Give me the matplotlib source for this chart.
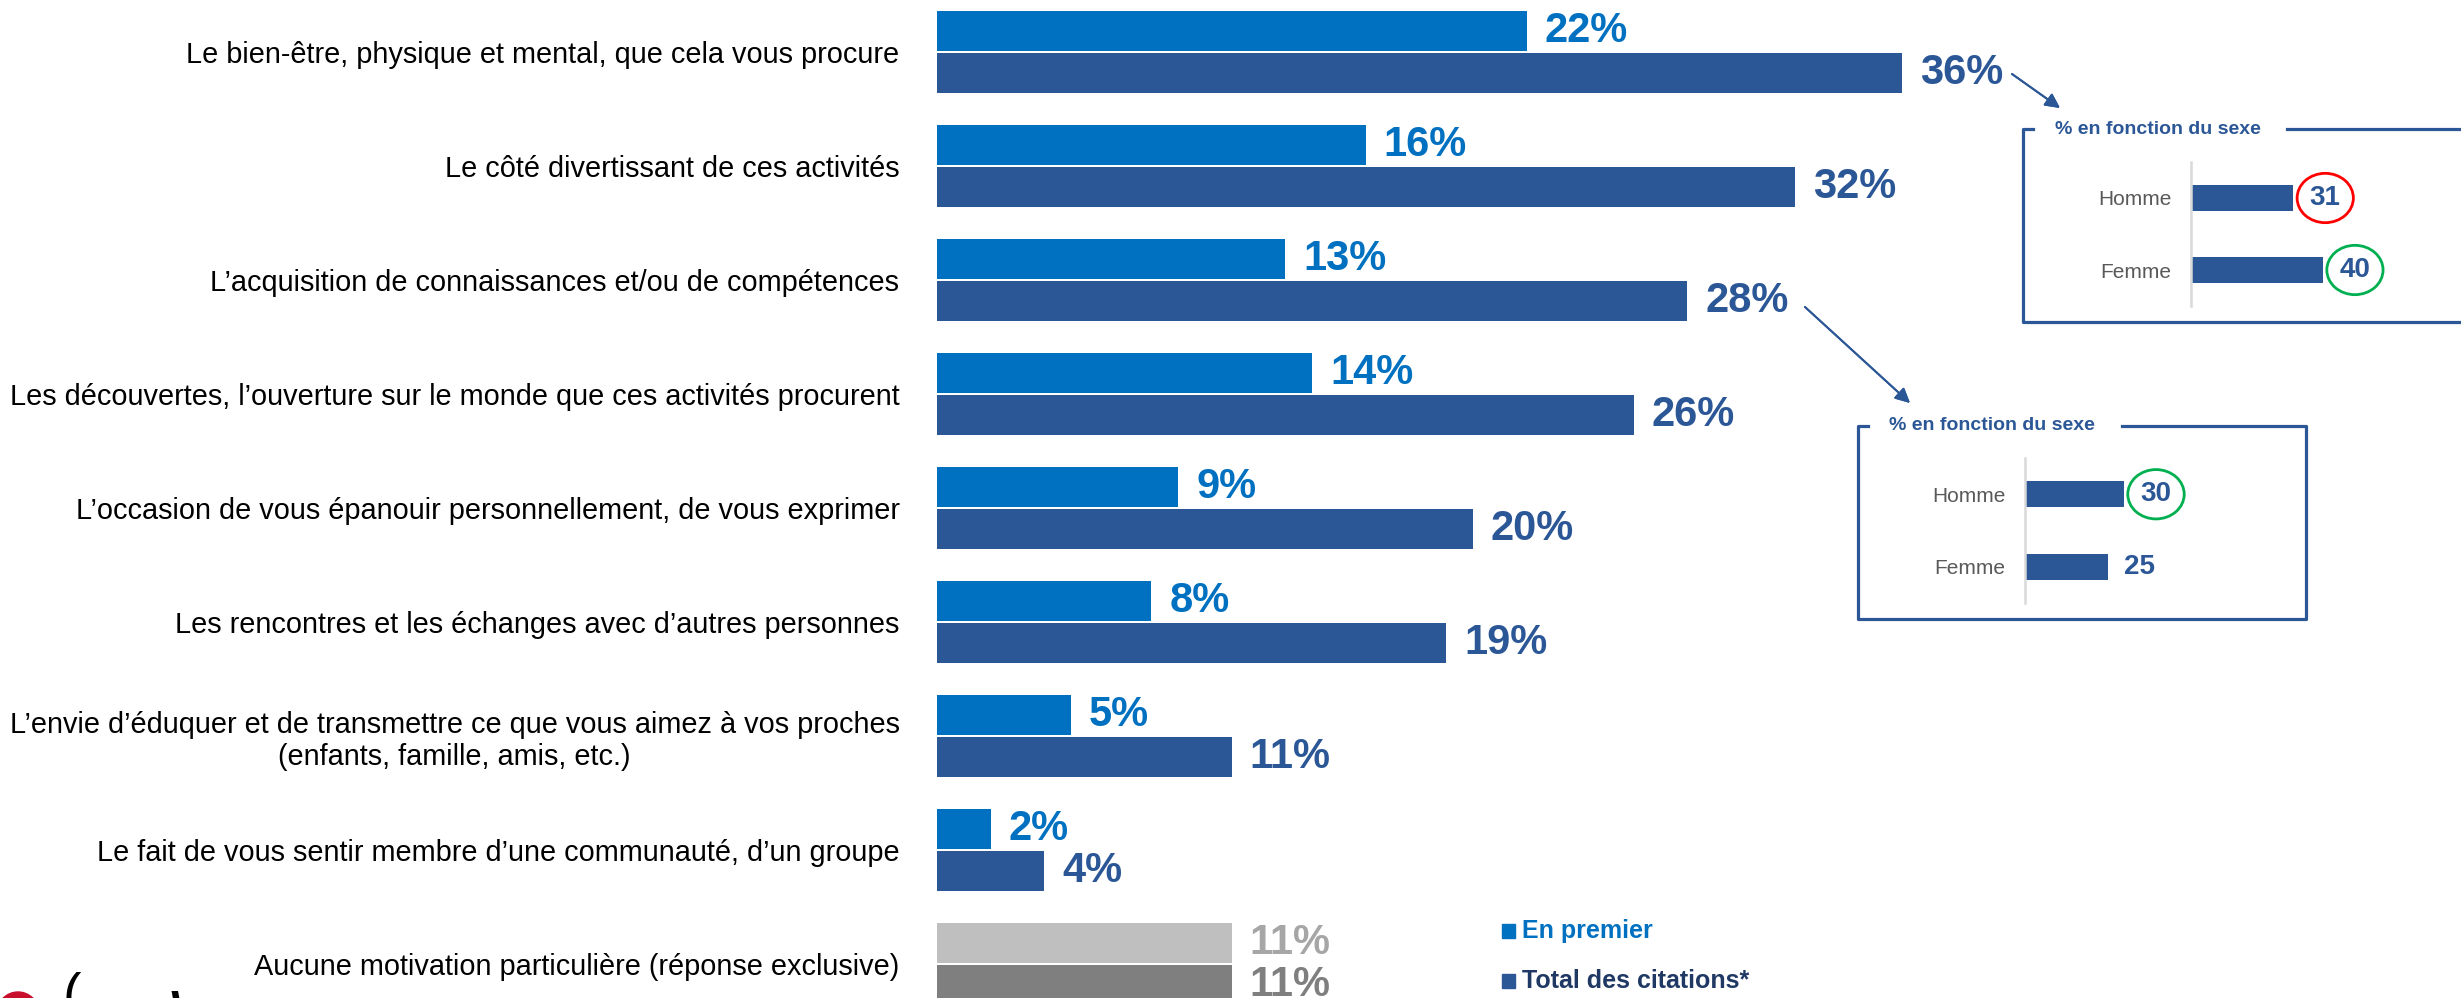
import matplotlib
import matplotlib.pyplot as plt
from matplotlib.patches import Circle, Rectangle
from matplotlib.lines import Line2D
from matplotlib.transforms import IdentityTransform

matplotlib.use('agg')

W, H, DPI = 2461, 998, 100

categories = [
    "Le bien-être, physique et mental, que cela vous procure",
    "Le côté divertissant de ces activités",
    "L’acquisition de connaissances et/ou de compétences",
    "Les découvertes, l’ouverture sur le monde que ces activités procurent",
    "L’occasion de vous épanouir personnellement, de vous exprimer",
    "Les rencontres et les échanges avec d’autres personnes",
    "L’envie d’éduquer et de transmettre ce que vous aimez à vos proches\n(enfants, famille, amis, etc.)",
    "Le fait de vous sentir membre d’une communauté, d’un groupe",
    "Aucune motivation particulière (réponse exclusive)",
]
en_premier = [22, 16, 13, 14, 9, 8, 5, 2, 11]
total_citations = [36, 32, 28, 26, 20, 19, 11, 4, 11]

sexe_labels = ["Homme", "Femme"]
sexe_bien_etre = [31, 40]
sexe_acquisition = [30, 25]

legend_labels = ["En premier", "Total des citations*"]

LIGHT = "#0070C0"
DARK = "#2B5797"
NAVY = "#203864"
GREY_L, GREY_D = "#BFBFBF", "#7F7F7F"
SANS = ["Liberation Sans", "DejaVu Sans"]


def fx(px):
    return px / W


def fy(py):
    return 1 - py / H


fig = plt.figure(figsize=(W / DPI, H / DPI), dpi=DPI)

# main chart: 0 % at x=937 px, 26.8 px per point, rows every 114 px from y=52
x0, px_pct = 937, 26.8
row0, step = 52, 114
ax = fig.add_axes([fx(x0), 0, 1 - fx(x0), 1])
ax.set_xlim(0, (W - x0) / px_pct)
ax.set_ylim((H - row0) / step, -row0 / step)

n = len(categories)
ys = list(range(n))
off, bh = 21 / step, 40 / step
c_first = [LIGHT] * (n - 1) + [GREY_L]
c_total = [DARK] * (n - 1) + [GREY_D]
t_first = [LIGHT] * (n - 1) + ["#A6A6A6"]
t_total = [DARK] * (n - 1) + [GREY_D]

ax.barh([y - off for y in ys], en_premier, height=bh, color=c_first)
ax.barh([y + off for y in ys], total_citations, height=bh, color=c_total)

gap = 18 / px_pct
for y, v, c in zip(ys, en_premier, t_first):
    ax.text(v + gap, y - off, f"{v}%", color=c, fontsize=30, fontweight="bold",
            family=SANS, va="center", ha="left")
for y, v, c in zip(ys, total_citations, t_total):
    ax.text(v + gap, y + off, f"{v}%", color=c, fontsize=30, fontweight="bold",
            family=SANS, va="center", ha="left")

ax.set_yticks(ys)
ax.set_yticklabels(categories, fontsize=20.8, family=SANS, color="black")
for lab in ax.get_yticklabels():
    lab.set_multialignment("center")
ax.tick_params(axis="y", length=0, pad=27)
ax.set_xticks([])
for s in ax.spines.values():
    s.set_visible(False)


# insets "% en fonction du sexe"
def sexe_inset(axis_x, top, bottom, values, rings):
    width = 270
    iax = fig.add_axes([fx(axis_x), fy(bottom), width / W, (bottom - top) / H])
    iax.set_xlim(0, width / 3.3)
    iax.set_ylim(1.5, -0.5)
    iax.barh([0, 1], values, height=0.355, color=DARK)
    for i, (v, ring) in enumerate(zip(values, rings)):
        bbox = None
        if ring:
            bbox = dict(boxstyle="ellipse,pad=0.16", fc="none", ec=ring, lw=2)
        iax.text(v + 5, i, str(v), color=DARK, fontsize=20, fontweight="bold",
                 family=SANS, va="center", ha="left", bbox=bbox)
    iax.set_yticks([0, 1])
    iax.set_yticklabels(sexe_labels, fontsize=15, family=SANS, color="#595959")
    iax.tick_params(axis="y", length=0, pad=14)
    iax.set_xticks([])
    for k, s in iax.spines.items():
        s.set_visible(k == "left")
    iax.spines["left"].set_color("#D9D9D9")
    iax.spines["left"].set_linewidth(1.8)
    return iax


def frame(left, top, right, bottom, title_x, gap_end):
    pts = [(left + 10, top), (left, top), (left, bottom), (right, bottom), (right, top), (gap_end, top)]
    fig.add_artist(Line2D([fx(p[0]) for p in pts], [fy(p[1]) for p in pts],
                          color=DARK, lw=2.3, transform=fig.transFigure, clip_on=False))
    fig.text(fx(title_x), fy(top), "% en fonction du sexe", color=DARK, fontsize=14,
             fontweight="bold", family=SANS, va="center", ha="left")


sexe_inset(2191, 162, 306, sexe_bien_etre, ["red", "#00B050"])
frame(2023, 129, 2470, 322, 2055, 2287)
sexe_inset(2025, 458, 603, sexe_acquisition, ["#00B050", None])
frame(1858, 426, 2306, 619, 1889, 2122)

# arrows pointing to the insets
arrow = dict(arrowstyle="-|>", color=DARK, lw=1.4, mutation_scale=22, shrinkA=0, shrinkB=0)
fig.add_artist(plt.annotate("", xy=(2060, H - 108), xytext=(2012, H - 74),
                            xycoords="figure pixels", textcoords="figure pixels", arrowprops=arrow))
fig.add_artist(plt.annotate("", xy=(1910, H - 403), xytext=(1805, H - 307),
                            xycoords="figure pixels", textcoords="figure pixels", arrowprops=arrow))

# legend (squares + coloured labels)
for (label, sq, tc), ly in zip(zip(legend_labels, [LIGHT, DARK], [LIGHT, NAVY]), [931, 981]):
    fig.add_artist(Rectangle((fx(1502), fy(ly + 7)), 13 / W, 14 / H, color=sq,
                             transform=fig.transFigure))
    fig.text(fx(1522), fy(ly), label, color=tc, fontsize=18, fontweight="bold",
             family=SANS, va="center", ha="left")

# clipped logo in the bottom-left corner
fig.add_artist(Circle((18, H - 1013), 21, color="#C8102E", transform=IdentityTransform()))
fig.text(fx(62), fy(1012), "(", fontsize=40, family=SANS, va="baseline", ha="left")
fig.text(fx(170), fy(1030), "\\", fontsize=40, fontweight="bold", family=SANS, va="baseline", ha="left")

fig.savefig("out.png", dpi=DPI)
